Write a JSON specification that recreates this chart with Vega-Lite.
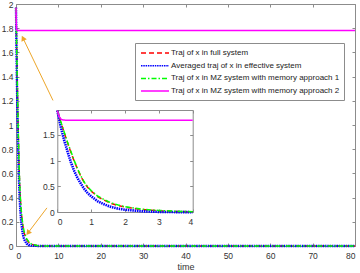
{
  "$schema": "https://vega.github.io/schema/vega-lite/v6.json",
  "width": 339,
  "height": 242,
  "autosize": "none",
  "padding": {"left": 16, "top": 4, "right": 5, "bottom": 27},
  "background": "white",
  "config": {
    "view": {"stroke": null},
    "axis": {
      "grid": false,
      "labelFont": "Liberation Sans",
      "labelFontSize": 8.5,
      "labelColor": "#333333",
      "domainColor": "#8c8c8c",
      "tickColor": "#8c8c8c",
      "tickSize": -3,
      "titleFont": "Liberation Sans",
      "titleFontSize": 9,
      "titleFontWeight": "normal",
      "titleColor": "#333333"
    },
    "legend": {
      "symbolType": "M-2.8,0H2.8",
      "symbolSize": 100,
      "symbolStrokeWidth": 1.5,
      "symbolOffset": 10,
      "labelOffset": 10,
      "padding": 4,
      "rowPadding": 2.7,
      "fillColor": "white",
      "strokeColor": "#8c8c8c",
      "labelFont": "Liberation Sans",
      "labelFontSize": 8,
      "labelLimit": 300,
      "labelColor": "#222222"
    }
  },
  "datasets": {
    "curves": [
      {"t": 0, "full": 1.97, "avg": 1.97, "mz1": 1.97, "mz2": 1.97},
      {"t": 0.05, "full": 1.86, "avg": 1.82, "mz1": 1.87, "mz2": 1.86},
      {"t": 0.1, "full": 1.75, "avg": 1.66, "mz1": 1.76, "mz2": 1.81},
      {"t": 0.15, "full": 1.65, "avg": 1.53, "mz1": 1.66, "mz2": 1.79},
      {"t": 0.2, "full": 1.55, "avg": 1.4, "mz1": 1.56, "mz2": 1.785},
      {"t": 0.3, "full": 1.35, "avg": 1.18, "mz1": 1.36, "mz2": 1.78},
      {"t": 0.4, "full": 1.16, "avg": 0.97, "mz1": 1.18, "mz2": 1.78},
      {"t": 0.5, "full": 0.99, "avg": 0.8, "mz1": 1.0, "mz2": 1.78},
      {"t": 0.6, "full": 0.83, "avg": 0.66, "mz1": 0.84, "mz2": 1.78},
      {"t": 0.7, "full": 0.69, "avg": 0.55, "mz1": 0.7, "mz2": 1.78},
      {"t": 0.8, "full": 0.57, "avg": 0.45, "mz1": 0.58, "mz2": 1.78},
      {"t": 0.9, "full": 0.48, "avg": 0.37, "mz1": 0.49, "mz2": 1.78},
      {"t": 1.0, "full": 0.41, "avg": 0.31, "mz1": 0.42, "mz2": 1.78},
      {"t": 1.2, "full": 0.3, "avg": 0.21, "mz1": 0.31, "mz2": 1.78},
      {"t": 1.4, "full": 0.23, "avg": 0.15, "mz1": 0.24, "mz2": 1.78},
      {"t": 1.6, "full": 0.17, "avg": 0.1, "mz1": 0.18, "mz2": 1.78},
      {"t": 1.8, "full": 0.13, "avg": 0.07, "mz1": 0.14, "mz2": 1.78},
      {"t": 2.0, "full": 0.1, "avg": 0.05, "mz1": 0.11, "mz2": 1.78},
      {"t": 2.5, "full": 0.055, "avg": 0.02, "mz1": 0.06, "mz2": 1.78},
      {"t": 3.0, "full": 0.03, "avg": 0.008, "mz1": 0.035, "mz2": 1.78},
      {"t": 3.5, "full": 0.017, "avg": 0.004, "mz1": 0.02, "mz2": 1.78},
      {"t": 4.0, "full": 0.01, "avg": 0.002, "mz1": 0.012, "mz2": 1.78},
      {"t": 5, "full": 0.003, "avg": 0.0005, "mz1": 0.004, "mz2": 1.78},
      {"t": 6, "full": 0.001, "avg": 0, "mz1": 0.001, "mz2": 1.78},
      {"t": 8, "full": 0, "avg": 0, "mz1": 0, "mz2": 1.78},
      {"t": 10, "full": 0, "avg": 0, "mz1": 0, "mz2": 1.78},
      {"t": 20, "full": 0, "avg": 0, "mz1": 0, "mz2": 1.78},
      {"t": 30, "full": 0, "avg": 0, "mz1": 0, "mz2": 1.78},
      {"t": 40, "full": 0, "avg": 0, "mz1": 0, "mz2": 1.78},
      {"t": 50, "full": 0, "avg": 0, "mz1": 0, "mz2": 1.78},
      {"t": 60, "full": 0, "avg": 0, "mz1": 0, "mz2": 1.78},
      {"t": 70, "full": 0, "avg": 0, "mz1": 0, "mz2": 1.78},
      {"t": 80, "full": 0, "avg": 0, "mz1": 0, "mz2": 1.78}
    ],
    "arrows": [
      {"arrow": "a1", "role": "tail", "t": 8.73, "value": 1.203},
      {"arrow": "a1", "role": "head", "t": 1.65, "value": 1.718},
      {"arrow": "a2", "role": "tail", "t": 7.3, "value": 0.315},
      {"arrow": "a2", "role": "head", "t": 2.83, "value": 0.108}
    ]
  },
  "layer": [
    {
      "layer": [
        {
          "data": {"name": "curves"},
          "transform": [{"fold": ["full", "avg", "mz1", "mz2"], "as": ["series", "value"]}, {"filter": "datum.series == 'full'"}],
          "mark": {"type": "line", "strokeWidth": 1.5},
          "encoding": {
            "x": {"field": "t", "type": "quantitative", "scale": {"domain": [0, 80], "nice": false},
                  "axis": {"orient": "bottom", "values": [0, 10, 20, 30, 40, 50, 60, 70, 80], "title": "time", "labelPadding": 8, "titlePadding": 3}},
            "y": {"field": "value", "type": "quantitative", "scale": {"domain": [0, 2], "nice": false},
                  "axis": {"orient": "left", "values": [0, 0.2, 0.4, 0.6, 0.8, 1, 1.2, 1.4, 1.6, 1.8, 2], "format": "~g", "title": null, "labelPadding": 6}},
            "color": {"field": "series", "type": "nominal",
                      "scale": {"domain": ["full", "avg", "mz1", "mz2"], "range": ["#ff0000", "#0000ff", "#00ff00", "#ff00ff"]},
                      "legend": {"orient": "none", "legendX": 119, "legendY": 39, "title": null,
                                 "labelExpr": "datum.label == 'full' ? 'Traj of x in full system' : datum.label == 'avg' ? 'Averaged traj of x in effective system' : datum.label == 'mz1' ? 'Traj of x in MZ system with memory approach 1' : 'Traj of x in MZ system with memory approach 2'"}},
            "strokeDash": {"field": "series", "type": "nominal",
                           "scale": {"domain": ["full", "avg", "mz1", "mz2"], "range": [[5, 3], [1.5, 0.8], [5, 2, 1.5, 2], [1, 0]]}}
          }
        },
        {
          "data": {"name": "curves"},
          "transform": [{"fold": ["full", "avg", "mz1", "mz2"], "as": ["series", "value"]}, {"filter": "datum.series == 'avg'"}],
          "mark": {"type": "line", "strokeWidth": 2.4},
          "encoding": {
            "x": {"field": "t", "type": "quantitative", "axis": null},
            "y": {"field": "value", "type": "quantitative", "axis": null},
            "color": {"field": "series", "type": "nominal"},
            "strokeDash": {"field": "series", "type": "nominal"}
          }
        },
        {
          "data": {"name": "curves"},
          "transform": [{"fold": ["full", "avg", "mz1", "mz2"], "as": ["series", "value"]}, {"filter": "datum.series == 'mz1'"}],
          "mark": {"type": "line", "strokeWidth": 1.5},
          "encoding": {
            "x": {"field": "t", "type": "quantitative", "axis": null},
            "y": {"field": "value", "type": "quantitative", "axis": null},
            "color": {"field": "series", "type": "nominal"},
            "strokeDash": {"field": "series", "type": "nominal"}
          }
        },
        {
          "data": {"name": "curves"},
          "transform": [{"fold": ["full", "avg", "mz1", "mz2"], "as": ["series", "value"]}, {"filter": "datum.series == 'mz2'"}],
          "mark": {"type": "line", "strokeWidth": 1.5},
          "encoding": {
            "x": {"field": "t", "type": "quantitative",
                  "axis": {"orient": "top", "values": [0, 10, 20, 30, 40, 50, 60, 70, 80], "labels": false, "title": null}},
            "y": {"field": "value", "type": "quantitative",
                  "axis": {"orient": "right", "values": [0, 0.2, 0.4, 0.6, 0.8, 1, 1.2, 1.4, 1.6, 1.8, 2], "labels": false, "title": null}},
            "color": {"field": "series", "type": "nominal"},
            "strokeDash": {"field": "series", "type": "nominal"}
          }
        },
        {
          "data": {"name": "arrows"},
          "mark": {"type": "line", "color": "#eda62a", "strokeWidth": 1},
          "encoding": {
            "x": {"field": "t", "type": "quantitative", "axis": null},
            "y": {"field": "value", "type": "quantitative", "axis": null},
            "detail": {"field": "arrow"}
          }
        },
        {
          "data": {"name": "arrows"},
          "transform": [{"filter": "datum.role == 'head' && datum.arrow == 'a1'"}],
          "mark": {"type": "point", "shape": "triangle-up", "filled": true, "color": "#eda62a", "size": 36, "angle": 334, "opacity": 1},
          "encoding": {
            "x": {"field": "t", "type": "quantitative", "axis": null},
            "y": {"field": "value", "type": "quantitative", "axis": null}
          }
        },
        {
          "data": {"name": "arrows"},
          "transform": [{"filter": "datum.role == 'head' && datum.arrow == 'a2'"}],
          "mark": {"type": "point", "shape": "triangle-up", "filled": true, "color": "#eda62a", "size": 36, "angle": 217, "opacity": 1},
          "encoding": {
            "x": {"field": "t", "type": "quantitative", "axis": null},
            "y": {"field": "value", "type": "quantitative", "axis": null}
          }
        }
      ],
      "resolve": {"axis": {"x": "independent", "y": "independent"}}
    },
    {
      "data": {"name": "curves"},
      "transform": [{"filter": "datum.t <= 4"}, {"fold": ["full", "avg", "mz1", "mz2"], "as": ["series", "value"]}],
      "layer": [
        {
          "transform": [{"filter": "datum.series == 'full'"}],
          "mark": {"type": "line", "strokeWidth": 1.5},
          "encoding": {
            "x": {"field": "t", "type": "quantitative", "scale": {"domain": [0, 4], "range": [41.3, 176.7], "nice": false},
                  "axis": {"orient": "bottom", "offset": -34, "values": [0, 1, 2, 3, 4], "title": null, "labelPadding": 8}},
            "y": {"field": "value", "type": "quantitative", "scale": {"domain": [0, 1.98], "range": [208.3, 106], "nice": false},
                  "axis": {"orient": "left", "offset": -41.3, "values": [0, 0.5, 1, 1.5], "format": "~g", "title": null, "labelPadding": 6}},
            "color": {"field": "series", "type": "nominal"},
            "strokeDash": {"field": "series", "type": "nominal"}
          }
        },
        {
          "transform": [{"filter": "datum.series == 'avg'"}],
          "mark": {"type": "line", "strokeWidth": 2.6},
          "encoding": {
            "x": {"field": "t", "type": "quantitative", "axis": null},
            "y": {"field": "value", "type": "quantitative", "axis": null},
            "color": {"field": "series", "type": "nominal"},
            "strokeDash": {"field": "series", "type": "nominal"}
          }
        },
        {
          "transform": [{"filter": "datum.series == 'mz1'"}],
          "mark": {"type": "line", "strokeWidth": 1.5},
          "encoding": {
            "x": {"field": "t", "type": "quantitative", "axis": null},
            "y": {"field": "value", "type": "quantitative", "axis": null},
            "color": {"field": "series", "type": "nominal"},
            "strokeDash": {"field": "series", "type": "nominal"}
          }
        },
        {
          "transform": [{"filter": "datum.series == 'mz2'"}],
          "mark": {"type": "line", "strokeWidth": 1.5},
          "encoding": {
            "x": {"field": "t", "type": "quantitative",
                  "axis": {"orient": "top", "offset": -106, "values": [0, 1, 2, 3, 4], "labels": false, "title": null}},
            "y": {"field": "value", "type": "quantitative",
                  "axis": {"orient": "right", "offset": -162.3, "values": [0, 0.5, 1, 1.5], "labels": false, "title": null}},
            "color": {"field": "series", "type": "nominal"},
            "strokeDash": {"field": "series", "type": "nominal"}
          }
        }
      ],
      "resolve": {"axis": {"x": "independent", "y": "independent"}}
    }
  ],
  "resolve": {"scale": {"x": "independent", "y": "independent"}}
}
